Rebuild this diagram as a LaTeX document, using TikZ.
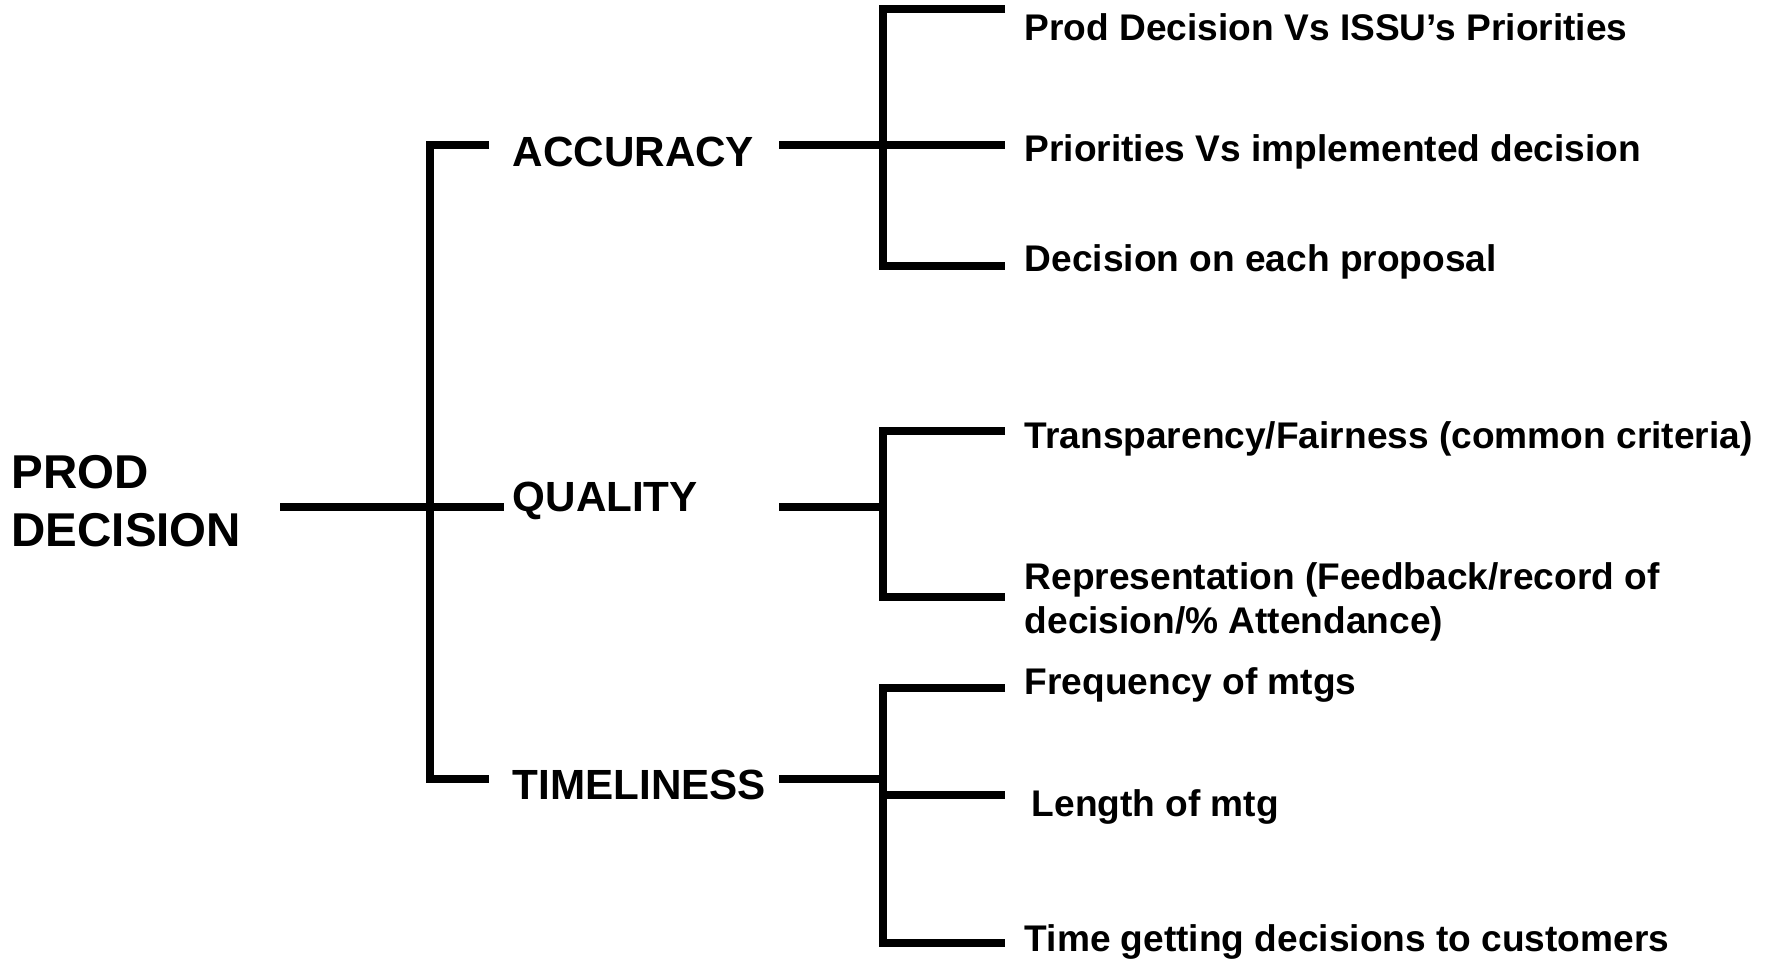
\documentclass[tikz,border=0pt]{standalone}
\usepackage{fontspec}
\setmainfont{Liberation Sans}
\usetikzlibrary{positioning}

\begin{document}
\begin{tikzpicture}[
  x=0.01cm, y=-0.01cm,
  rootnode/.style={anchor=base west, inner sep=0pt, align=left, font=\fontsize{13.5}{16.4}\selectfont\bfseries},
  groupnode/.style={anchor=base west, inner sep=0pt, font=\fontsize{12}{14}\selectfont\bfseries},
  itemnode/.style={anchor=base west, inner sep=0pt, align=left, font=\fontsize{10.55}{12.4}\selectfont\bfseries},
  bracket/.style={line width=2pt, line join=miter}
]
\useasboundingbox (0,0) rectangle (1775,960);

% Root
\node[rootnode] (root) at (11,546) {PROD\\DECISION};

% Middle column
\node[groupnode] (acc) at (512,166) {ACCURACY};
\node[groupnode] (qual) at (512,511) {QUALITY};
\node[groupnode] (time) at (512,799) {TIMELINESS};

% Right column: accuracy
\node[itemnode] (acc1) at (1024,40) {Prod Decision Vs ISSU’s Priorities};
\node[itemnode] (acc2) at (1024,161) {Priorities Vs implemented decision};
\node[itemnode] (acc3) at (1024,271) {Decision on each proposal};

% Right column: quality
\node[itemnode] (qual1) at (1024,448) {Transparency/Fairness (common criteria)};
\node[itemnode] (qual2) at (1024,633) {Representation (Feedback/record of\\decision/\% Attendance)};

% Right column: timeliness
\node[itemnode] (time1) at (1024,694) {Frequency of mtgs};
\node[itemnode] (time2) at (1031,816) {Length of mtg};
\node[itemnode] (time3) at (1024,951) {Time getting decisions to customers};

% Bracket joints
\coordinate (r0) at (280,507);
\coordinate (r1) at (430,507);
\coordinate (a0) at (779,145);
\coordinate (a1) at (883,145);
\coordinate (q0) at (779,507);
\coordinate (q1) at (883,507);
\coordinate (t0) at (779,779);
\coordinate (t1) at (883,779);

% Root bracket
\draw[bracket] (r0) -- (r1) -- (504,507);
\draw[bracket] (489,145) -- (430,145) -- (430,779) -- (489,779);

% Accuracy bracket
\draw[bracket] (a0) -- (a1) -- (1005,145);
\draw[bracket] (1005,9) -- (883,9) -- (883,266) -- (1005,266);

% Quality bracket
\draw[bracket] (q0) -- (q1);
\draw[bracket] (1005,431) -- (883,431) -- (883,597) -- (1005,597);

% Timeliness bracket
\draw[bracket] (t0) -- (t1);
\draw[bracket] (1005,688) -- (883,688) -- (883,943) -- (1005,943);
\draw[bracket] (883,795) -- (1005,795);
\end{tikzpicture}
\end{document}
